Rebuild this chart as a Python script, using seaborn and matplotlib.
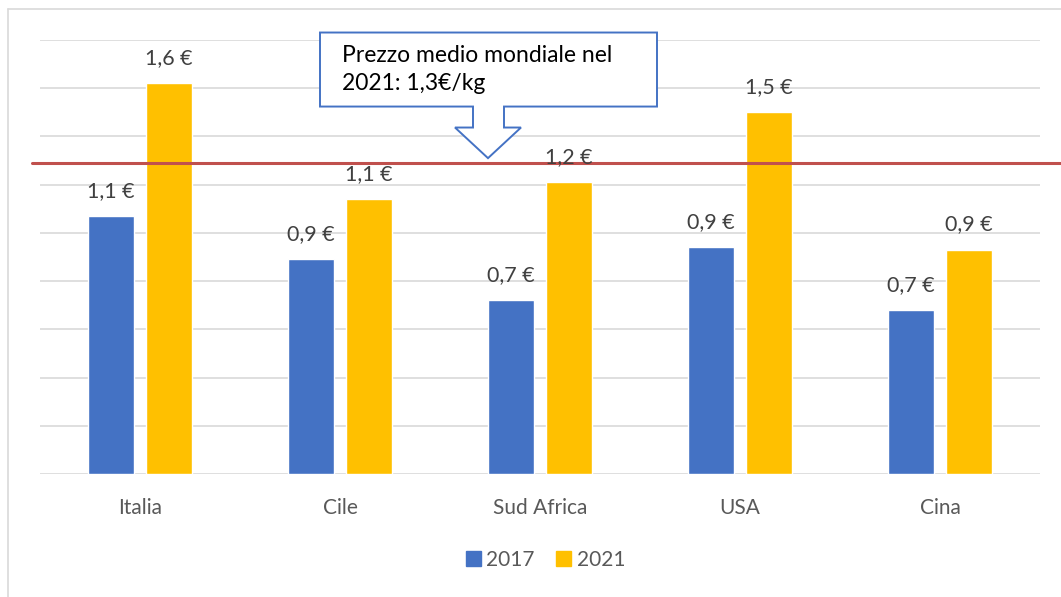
import pandas as pd
import seaborn as sns
import matplotlib.pyplot as plt
from matplotlib.patches import Polygon
from matplotlib.lines import Line2D

# data (EUR/kg)
paesi = ['Italia', 'Cile', 'Sud Africa', 'USA', 'Cina']
prezzi_2017 = [1.07, 0.89, 0.72, 0.94, 0.68]
prezzi_2021 = [1.62, 1.14, 1.21, 1.50, 0.93]
anni = ['2017', '2021']
media_mondiale = 1.29
testo_media = 'Prezzo medio mondiale nel\n2021: 1,3€/kg'

colori = ['#4472C4', '#FFC000']

# long format for seaborn
df = pd.DataFrame({
    'paese': paesi * 2,
    'anno': [anni[0]] * len(paesi) + [anni[1]] * len(paesi),
    'prezzo': prezzi_2017 + prezzi_2021,
})

sns.set_style('white')
plt.rcParams['font.family'] = ['Lato', 'DejaVu Sans']

fig = plt.figure(figsize=(10.61, 5.97), dpi=100)
ax = fig.add_axes([0.0377, 0.206, 0.9425, 0.727])

sns.barplot(data=df, x='paese', y='prezzo', hue='anno', palette=colori,
            width=0.58, gap=0.2, saturation=1, ax=ax, legend=False, zorder=3)

ax.set_xlim(-0.5, 4.5)
ax.set_ylim(0, 1.8)
ax.set_yticks([i * 0.2 for i in range(10)])
ax.set_yticklabels([])
ax.grid(axis='y', color='#D9D9D9', linewidth=1.2, zorder=0)
ax.set_axisbelow(True)
for s in ax.spines.values():
    s.set_visible(False)
ax.tick_params(axis='y', length=0)
ax.tick_params(axis='x', length=0, pad=17, labelsize=15, labelcolor='#595959')
ax.set_xlabel('')
ax.set_ylabel('')

# data labels
for cont in ax.containers:
    labs = [('%.1f' % b.get_height()).replace('.', ',') + ' €' for b in cont]
    ax.bar_label(cont, labels=labs, padding=11, fontsize=15.5, color='#404040',
                 zorder=5)

# world average line
ax.plot([-0.54, 4.65], [media_mondiale, media_mondiale], color='#C0504D',
        linewidth=2.2, clip_on=False, zorder=4)

# callout with down arrow
top, bot = 1.831, 1.524
stem = 1.437
tip = media_mondiale + 0.02
pts = [(0.90, top), (2.585, top), (2.585, bot), (1.82, bot), (1.82, stem),
       (1.905, stem), (1.74, tip), (1.575, stem), (1.665, stem), (1.665, bot),
       (0.90, bot)]
ax.add_patch(Polygon(pts, closed=True, facecolor='white', edgecolor='#4472C4',
                     linewidth=1.4, clip_on=False, zorder=6))
ax.text(1.01, 1.677, testo_media, ha='left', va='center', fontsize=16.5,
        color='black', linespacing=1.4, zorder=7)

# legend
handles = [plt.Rectangle((0, 0), 1, 1, color=c) for c in colori]
fig.legend(handles, anni, loc='center', bbox_to_anchor=(0.514, 0.062), ncol=2,
           frameon=False, fontsize=15, labelcolor='#595959', handlelength=0.75,
           handleheight=0.75, handletextpad=0.25, columnspacing=1.0)

# outer chart border
fig.add_artist(Line2D([8 / 1061, 8 / 1061], [0, 1 - 9 / 597], color='#D9D9D9',
                      linewidth=1.2, transform=fig.transFigure))
fig.add_artist(Line2D([8 / 1061, 1], [1 - 9 / 597, 1 - 9 / 597], color='#D9D9D9',
                      linewidth=1.2, transform=fig.transFigure))

plt.savefig('out.png', dpi=100)
